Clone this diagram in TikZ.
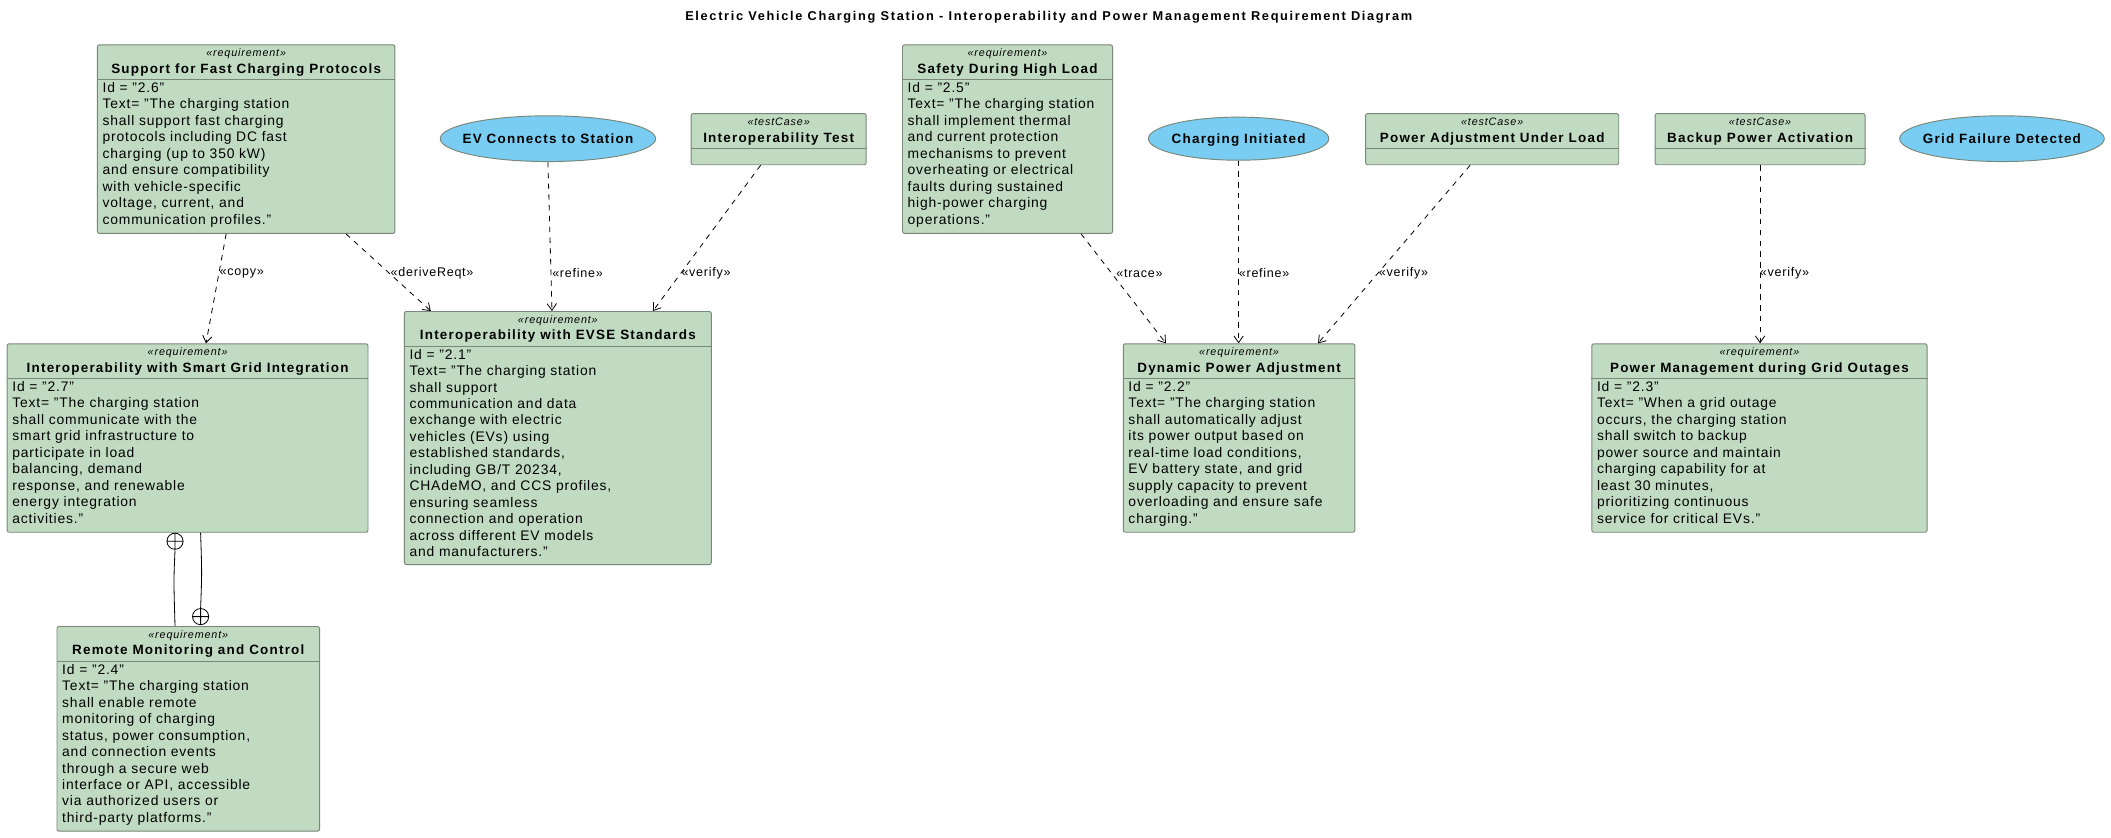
\documentclass[tikz,border=0pt]{standalone}
\usepackage{fontspec}
\setmainfont{Liberation Sans}
\usetikzlibrary{arrows.meta,calc,shapes.geometric}
\definecolor{reqfill}{RGB}{193,219,194}
\definecolor{reqline}{RGB}{120,135,120}
\definecolor{ucfill}{RGB}{122,205,242}
\tikzset{
 box/.style={draw=reqline,fill=reqfill,rounded corners=1.5pt,line width=0.7pt,anchor=north west,inner sep=0pt},
 uc/.style={draw=reqline,fill=ucfill,ellipse,line width=0.7pt,inner sep=0pt},
 st/.style={font=\fontsize{8}{9}\selectfont\itshape\addfontfeature{LetterSpace=8},inner sep=0pt,anchor=base},
 ttl/.style={font=\fontsize{10}{11}\selectfont\bfseries\addfontfeature{LetterSpace=9},inner sep=0pt,anchor=base},
 bod/.style={font=\fontsize{10.3}{12.25}\selectfont\addfontfeature{LetterSpace=6},align=left,inner sep=0pt,anchor=north west},
 rel/.style={dashed,dash pattern=on 4pt off 4pt,line width=0.6pt,-{Straight Barb[length=5pt,width=7pt]}},
 lbl/.style={font=\fontsize{9.3}{10}\selectfont\addfontfeature{LetterSpace=6},inner sep=0pt,anchor=west},
}
% name, x1,y1,x2,y2, stereo, title, body
\newcommand{\reqbox}[8]{%
 \node[box,minimum width=#4-#2,minimum height=#5-#3] (#1) at (#2,#3) {};
 \node[st] (#1-s) at ($(#1.north)+(0,9)$) {\guillemotleft#6\guillemotright};
 \node[ttl] (#1-t) at ($(#1.north)+(0,21.5)$) {#7};
 \draw[reqline,line width=0.7pt] ($(#1.north west)+(0,26)$) -- ($(#1.north east)+(0,26)$);
 \node[bod] (#1-b) at ($(#1.north west)+(4,28)$) {#8};
}
\newcommand{\tcbox}[6]{%
 \node[box,minimum width=#4-#2,minimum height=#5-#3] (#1) at (#2,#3) {};
 \node[st] (#1-s) at ($(#1.north)+(0,9)$) {\guillemotleft testCase\guillemotright};
 \node[ttl] (#1-t) at ($(#1.north)+(0,21.5)$) {#6};
 \draw[reqline,line width=0.7pt] ($(#1.north west)+(0,26)$) -- ($(#1.north east)+(0,26)$);
}
\newcommand{\cplus}[2]{\draw[line width=0.6pt] (#1,#2) circle (6pt) (#1-6,#2)--(#1+6,#2) (#1,#2-6)--(#1,#2+6);}
\begin{document}
\begin{tikzpicture}[x=1pt,y=-1pt]
\useasboundingbox (0,0) rectangle (1568,622);
\node[font=\fontsize{9.5}{10}\selectfont\bfseries\addfontfeature{LetterSpace=13},inner sep=0pt] (title) at (779,13) {Electric Vehicle Charging Station - Interoperability and Power Management Requirement Diagram};

\reqbox{sup}{72}{33}{293}{173}{requirement}{Support for Fast Charging Protocols}{Id = "2.6"\\Text= "The charging station\\shall support fast charging\\protocols including DC fast\\charging (up to 350 kW)\\and ensure compatibility\\with vehicle-specific\\voltage, current, and\\communication profiles."}
\reqbox{sg}{5}{255}{273}{395}{requirement}{Interoperability with Smart Grid Integration}{Id =  "2.7"\\Text= "The charging station\\shall communicate with the\\smart grid infrastructure to\\participate in load\\balancing, demand\\response, and renewable\\energy integration\\activities."}
\reqbox{rm}{42}{465}{237}{617}{requirement}{Remote Monitoring and Control}{Id =  "2.4"\\Text= "The charging station\\shall enable remote\\monitoring of charging\\status, power consumption,\\and connection events\\through a secure web\\interface or API, accessible\\via authorized users or\\third-party platforms."}
\reqbox{evse}{300}{231}{528}{419}{requirement}{Interoperability with EVSE Standards}{Id = "2.1"\\Text= "The charging station\\shall support\\communication and data\\exchange with electric\\vehicles (EVs) using\\established standards,\\including GB/T 20234,\\CHAdeMO, and CCS profiles,\\ensuring seamless\\connection and operation\\across different EV models\\and manufacturers."}
\reqbox{saf}{670}{33}{826}{173}{requirement}{Safety During High Load}{Id = "2.5"\\Text= "The charging station\\shall implement thermal\\and current protection\\mechanisms to prevent\\overheating or electrical\\faults during sustained\\high-power charging\\operations."}
\reqbox{dyn}{834}{255}{1006}{395}{requirement}{Dynamic Power Adjustment}{Id = "2.2"\\Text= "The charging station\\shall automatically adjust\\its power output based on\\real-time load conditions,\\EV battery state, and grid\\supply capacity to prevent\\overloading and ensure safe\\charging."}
\reqbox{pm}{1182}{255}{1431}{395}{requirement}{Power Management during Grid Outages}{Id = "2.3"\\Text= "When a grid outage\\occurs, the charging station\\shall switch to backup\\power source and maintain\\charging capability for at\\least 30 minutes,\\prioritizing continuous\\service for critical EVs."}

\tcbox{it}{513}{84}{643}{122}{Interoperability Test}
\tcbox{pal}{1014}{84}{1202}{122}{Power Adjustment Under Load}
\tcbox{bpa}{1229}{84}{1385}{122}{Backup Power Activation}

\node[uc,minimum width=160,minimum height=34] (ev) at (407,103) {};
\node[ttl] (ev-t) at ($(ev.center)+(0,3.5)$) {EV Connects to Station};
\node[uc,minimum width=134,minimum height=32] (ci) at (920,103) {};
\node[ttl] (ci-t) at ($(ci.center)+(0,3.5)$) {Charging Initiated};
\node[uc,minimum width=152,minimum height=34] (gf) at (1487,103) {};
\node[ttl] (gf-t) at ($(gf.center)+(0,3.5)$) {Grid Failure Detected};

\draw[rel] ($(sup.south west)+(96,0)$) -- ($(sg.north west)+(148,0)$);
\node[lbl] (l1) at (163,203) {\guillemotleft copy\guillemotright};
\draw[rel] ($(sup.south west)+(185,0)$) -- ($(evse.north west)+(20,0)$);
\node[lbl] (l2) at (290,203) {\guillemotleft deriveReqt\guillemotright};
\draw[rel] (ev.south) -- ($(evse.north west)+(110,0)$);
\node[lbl] (l3) at (410,203) {\guillemotleft refine\guillemotright};
\draw[rel] ($(it.south west)+(52,0)$) -- ($(evse.north west)+(185,0)$);
\node[lbl] (l4) at (506,203) {\guillemotleft verify\guillemotright};
\draw[rel] ($(saf.south west)+(133,0)$) -- ($(dyn.north west)+(32,0)$);
\node[lbl] (l5) at (829,203) {\guillemotleft trace\guillemotright};
\draw[rel] (ci.south) -- (ci.south |- dyn.north);
\node[lbl] (l6) at (920,203) {\guillemotleft refine\guillemotright};
\draw[rel] ($(pal.south west)+(78,0)$) -- ($(dyn.north west)+(145,0)$);
\node[lbl] (l7) at (1024,203) {\guillemotleft verify\guillemotright};
\draw[rel] (bpa.south) -- (bpa.south |- pm.north);
\node[lbl] (l8) at (1307,203) {\guillemotleft verify\guillemotright};

\draw[line width=0.6pt] ($(sg.south west)+(125,13)$) .. controls ($(sg.south west)+(124,35)$) .. ($(rm.north west)+(88,0)$);
\cplus{130}{402}
\draw[line width=0.6pt] ($(sg.south west)+(144,0)$) .. controls ($(sg.south west)+(145,30)$) .. ($(rm.north west)+(107,-13)$);
\cplus{149}{458}
\end{tikzpicture}
\end{document}
